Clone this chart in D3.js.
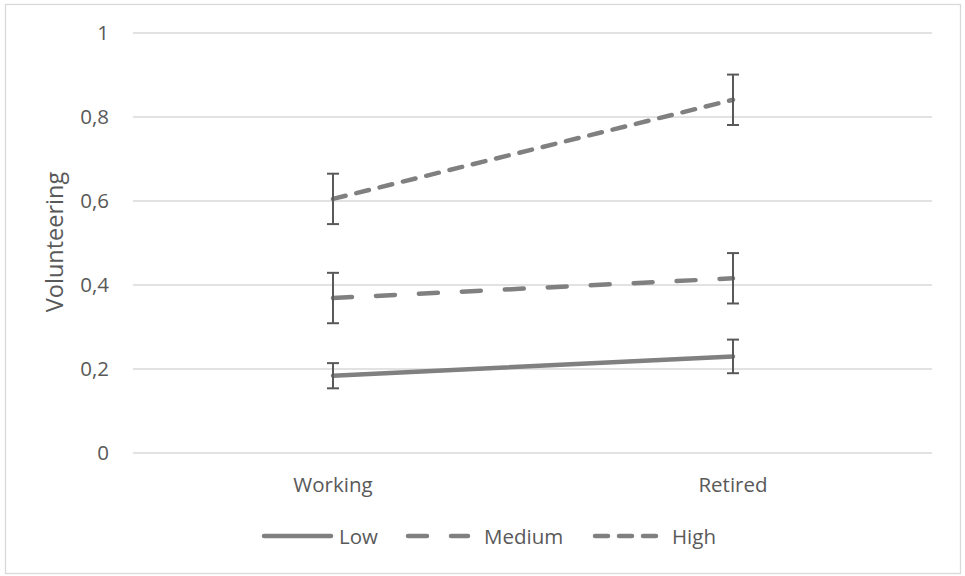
<!DOCTYPE html>
<html>
<head>
<meta charset="utf-8">
<script src="https://cdn.jsdelivr.net/npm/d3@7"></script>
<style>
  body { margin: 0; background: #fff; }
  text { font-family: "Open Sans", sans-serif; fill: #595959; }
</style>
</head>
<body>
<div id="chart"></div>
<script>
// data
const stages = ["Working", "Retired"];
const yTicks = [0, 0.2, 0.4, 0.6, 0.8, 1];
const lowValues = [0.184, 0.230];
const lowErrors = [0.030, 0.040];
const mediumValues = [0.369, 0.416];
const mediumErrors = [0.060, 0.060];
const highValues = [0.605, 0.841];
const highErrors = [0.060, 0.060];
const seriesNames = ["Low", "Medium", "High"];

const series = [
    {name: seriesNames[0], values: lowValues, errors: lowErrors, dash: null},
    {name: seriesNames[1], values: mediumValues, errors: mediumErrors, dash: "19,24"},
    {name: seriesNames[2], values: highValues, errors: highErrors, dash: "13,11"}
];

const width = 965, height = 576;
const lineColor = "#808080", barColor = "#595959", gridColor = "#d9d9d9";

const svg = d3.select("#chart").append("svg")
    .attr("width", width)
    .attr("height", height);

// chart border
svg.append("rect")
    .attr("x", 5.5).attr("y", 4.5)
    .attr("width", 955).attr("height", 569)
    .attr("fill", "#fff")
    .attr("stroke", gridColor)
    .attr("stroke-width", 1.3);

const x = d3.scaleBand()
    .domain(stages)
    .range([133, 933]);

const y = d3.scaleLinear()
    .domain([0, 1])
    .range([453, 33]);

const cx = d => x(d) + x.bandwidth() / 2;

// gridlines
svg.append("g")
    .selectAll("line")
    .data(yTicks)
    .join("line")
    .attr("x1", 133).attr("x2", 932)
    .attr("y1", d => y(d)).attr("y2", d => y(d))
    .attr("stroke", gridColor)
    .attr("stroke-width", 1.3);

// y tick labels
svg.append("g")
    .selectAll("text")
    .data(yTicks)
    .join("text")
    .attr("x", 109)
    .attr("y", d => y(d))
    .attr("dy", "0.36em")
    .attr("text-anchor", "end")
    .style("font-size", "20.5px")
    .text(d => d3.format(".1~f")(d).replace(".", ","));

// x labels
svg.append("g")
    .selectAll("text")
    .data(stages)
    .join("text")
    .attr("x", d => cx(d))
    .attr("y", 492)
    .attr("text-anchor", "middle")
    .style("font-size", "20.5px")
    .text(d => d);

// y title
svg.append("text")
    .attr("transform", "translate(63,242) rotate(-90)")
    .attr("text-anchor", "middle")
    .style("font-size", "23.5px")
    .text("Volunteering");

// lines
const line = d3.line()
    .x((d, i) => cx(stages[i]))
    .y(d => y(d));

svg.append("g")
    .selectAll("path")
    .data(series)
    .join("path")
    .attr("d", d => line(d.values))
    .attr("fill", "none")
    .attr("stroke", lineColor)
    .attr("stroke-width", 4.5)
    .attr("stroke-linecap", "round")
    .attr("stroke-dasharray", d => d.dash);

// error bars
const errData = [];
series.forEach(s => {
    s.values.forEach((v, i) => {
        errData.push({stage: stages[i], lo: v - s.errors[i], hi: v + s.errors[i]});
    });
});

const errG = svg.append("g")
    .selectAll("g")
    .data(errData)
    .join("g")
    .attr("stroke", barColor)
    .attr("stroke-width", 2);

errG.append("line")
    .attr("x1", d => cx(d.stage)).attr("x2", d => cx(d.stage))
    .attr("y1", d => y(d.lo)).attr("y2", d => y(d.hi));
errG.append("line")
    .attr("x1", d => cx(d.stage) - 6).attr("x2", d => cx(d.stage) + 6)
    .attr("y1", d => y(d.lo)).attr("y2", d => y(d.lo));
errG.append("line")
    .attr("x1", d => cx(d.stage) - 6).attr("x2", d => cx(d.stage) + 6)
    .attr("y1", d => y(d.hi)).attr("y2", d => y(d.hi));

// legend
const legendX = [264, 408, 595];
const legendLen = [67, 60, 61];
const legendTextX = [339, 484, 672];
const legendY = 536;

const legend = svg.append("g")
    .selectAll("g")
    .data(series)
    .join("g");

legend.append("line")
    .attr("x1", (d, i) => legendX[i])
    .attr("x2", (d, i) => legendX[i] + legendLen[i])
    .attr("y1", legendY).attr("y2", legendY)
    .attr("stroke", lineColor)
    .attr("stroke-width", 4.5)
    .attr("stroke-linecap", "round")
    .attr("stroke-dasharray", d => d.dash);

legend.append("text")
    .attr("x", (d, i) => legendTextX[i])
    .attr("y", 544)
    .style("font-size", "20.5px")
    .text(d => d.name);
</script>
</body>
</html>
